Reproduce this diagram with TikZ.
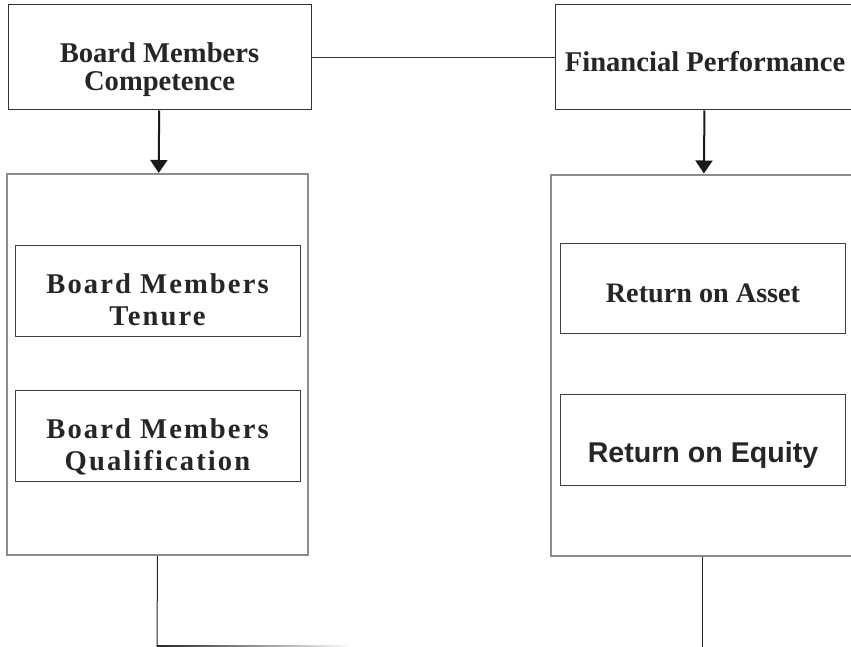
\documentclass[tikz,border=0pt]{standalone}
\usepackage{fontspec}
\setmainfont{Liberation Serif}
\newfontfamily\arialfont{Liberation Sans}
\usetikzlibrary{positioning,arrows.meta}

\begin{document}
\begin{tikzpicture}[x=0.5pt, y=-0.5pt,
    every node/.style={font=\bfseries\fontsize{14.3}{14}\selectfont, align=center, inner sep=0pt, text=black!85},
    topbox/.style={draw=black!80, line width=0.5pt, minimum width=151.5pt, minimum height=52.5pt},
    outerbox/.style={draw=black!45, line width=1pt, minimum width=150.5pt, minimum height=190.5pt},
    innerbox/.style={draw=black!75, line width=0.5pt, minimum width=142.5pt, minimum height=45.5pt},
    spaced/.style={font=\bfseries\fontsize{14.3}{16.25}\selectfont\addfontfeature{LetterSpace=7.3}},
    arrowline/.style={-{Triangle[length=6.5pt,width=8.5pt]}, line width=1pt, black!90}]
  \clip (0,0) rectangle (851,647);
  \fill[white] (0,0) rectangle (851,647);

  % top row
  \node[topbox, text height=33pt, text depth=0pt] (compet) at (159.5,57.5) {Board Members\\Competence};
  \node[topbox, minimum width=150pt, text height=14.5pt, text depth=0pt] (finperf) at (705,57.5) {Financial Performance};
  \draw[black!80, line width=0.5pt] (compet) -- (finperf);

  % big boxes
  \node[outerbox] (leftbox) at (157.5,364.5) {};
  \node[outerbox, minimum width=151pt] (rightbox) at (702,365) {};
  \draw[arrowline] (compet) -- (leftbox);
  \draw[arrowline] (finperf) -- (rightbox);

  % inner boxes
  \node[innerbox, spaced, text height=35pt, text depth=0pt] (tenure) at (157.5,290.5) {Board Members\\Tenure};
  \node[innerbox, spaced, text height=35pt, text depth=0pt] (qualif) at (157.5,435.5) {Board Members\\Qualification};
  \node[innerbox, minimum height=45pt, font=\bfseries\fontsize{14.1}{15}\selectfont, text height=14.5pt, text depth=0pt] (roa) at (703,288) {Return on Asset};
  \node[innerbox, font=\arialfont\bfseries\fontsize{14.3}{16}\selectfont, text height=22.8pt, text depth=0pt] (roe) at (703,439.5) {Return on Equity};

  % bottom lines
  \coordinate (leftend) at (157,646);
  \coordinate (rightend) at (702,650);
  \draw[black!85, line width=0.5pt] (leftbox.south) -- (leftend);
  \shade[left color=black!85, right color=white] (156.5,645.5) rectangle (352,646.5);
  \draw[black!85, line width=0.5pt] (rightbox.south) -- (rightend);
\end{tikzpicture}
\end{document}
